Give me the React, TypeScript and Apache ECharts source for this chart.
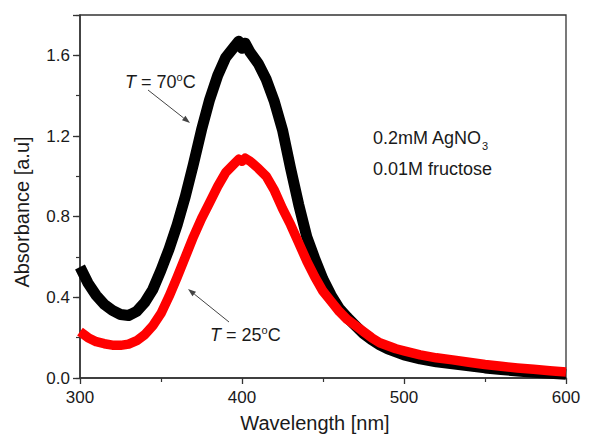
import React, { useEffect, useRef } from "react";
import * as echarts from "echarts";

const wavelengths = [
  300, 305, 310, 315, 320, 325, 330, 335, 340, 345, 350, 355, 360, 365, 370, 375, 380, 385, 390, 395,
  398, 400, 402, 405, 410, 415, 420, 425, 430, 435, 440, 445, 450, 455, 460, 465, 470, 475, 480, 485,
  490, 495, 500, 510, 520, 530, 540, 550, 560, 570, 580, 590, 600,
];

const abs70C = [
  0.55, 0.47, 0.41, 0.365, 0.335, 0.315, 0.31, 0.33, 0.375, 0.44, 0.535, 0.64, 0.76, 0.9, 1.06, 1.23, 1.38, 1.5, 1.59, 1.64,
  1.67, 1.635, 1.66, 1.615, 1.56, 1.48, 1.37, 1.23, 1.04, 0.86, 0.7, 0.59, 0.49, 0.41, 0.345, 0.3, 0.26, 0.22, 0.19, 0.165,
  0.145, 0.13, 0.115, 0.095, 0.08, 0.07, 0.06, 0.05, 0.042, 0.035, 0.028, 0.023, 0.018,
];

const abs25C = [
  0.23, 0.2, 0.18, 0.17, 0.163, 0.162, 0.168, 0.185, 0.215, 0.26, 0.32, 0.405, 0.5, 0.6, 0.7, 0.79, 0.87, 0.95, 1.02, 1.06,
  1.085, 1.075, 1.09, 1.075, 1.04, 1.0, 0.93, 0.84, 0.76, 0.67, 0.58, 0.5, 0.43, 0.38, 0.33, 0.29, 0.26, 0.23, 0.2, 0.175,
  0.16, 0.145, 0.135, 0.115, 0.1, 0.09, 0.078, 0.067, 0.058, 0.05, 0.043, 0.036, 0.03,
];

const xTicks = { min: 300, max: 600, interval: 100 };
const yTicks = { min: 0, max: 1.8, major: 0.4, minor: 0.2 };

const FONT = "'Liberation Sans', Arial, Helvetica, sans-serif";
const AXIS = "#333333";
const TEXT = "#1a1a1a";

function arrow(x1: number, y1: number, x2: number, y2: number) {
  const dx = x2 - x1;
  const dy = y2 - y1;
  const len = Math.sqrt(dx * dx + dy * dy);
  const ux = dx / len;
  const uy = dy / len;
  const hl = 8;
  const hw = 2.8;
  const bx = x2 - ux * hl;
  const by = y2 - uy * hl;
  return [
    {
      type: "line",
      shape: { x1, y1, x2: bx, y2: by },
      style: { stroke: "#444", lineWidth: 1 },
      silent: true,
    },
    {
      type: "polygon",
      shape: {
        points: [
          [x2, y2],
          [bx - uy * hw, by + ux * hw],
          [bx + uy * hw, by - ux * hw],
        ],
      },
      style: { fill: "#444" },
      silent: true,
    },
  ];
}

export default function App() {
  const ref = useRef<HTMLDivElement>(null);

  useEffect(() => {
    if (!ref.current) return;
    const chart = echarts.init(ref.current, undefined, { renderer: "svg" });
    const d70 = wavelengths.map((w, i) => [w, abs70C[i]]);
    const d25 = wavelengths.map((w, i) => [w, abs25C[i]]);

    const annoRich = {
      i: { fontStyle: "italic", fontSize: 18, fontFamily: FONT, fill: TEXT, lineHeight: 22 },
      n: { fontSize: 18, fontFamily: FONT, fill: TEXT, lineHeight: 22 },
      s: { fontSize: 11, fontFamily: FONT, fill: TEXT, verticalAlign: "top", lineHeight: 22 },
      b: { fontSize: 11, fontFamily: FONT, fill: TEXT, verticalAlign: "bottom", lineHeight: 26 },
    };

    chart.setOption({
      animation: false,
      backgroundColor: "#ffffff",
      grid: {
        left: 80,
        top: 15,
        right: 24,
        bottom: 57,
        show: true,
        borderColor: AXIS,
        borderWidth: 1.3,
        backgroundColor: "transparent",
      },
      xAxis: {
        type: "value",
        min: xTicks.min,
        max: xTicks.max,
        interval: xTicks.interval,
        axisLine: { show: true, lineStyle: { color: AXIS, width: 1.5 } },
        axisTick: { show: true, inside: false, length: 6, lineStyle: { color: AXIS, width: 1.3 } },
        minorTick: { show: true, splitNumber: 2, length: 4, lineStyle: { color: AXIS, width: 1.2 } },
        splitLine: { show: false },
        minorSplitLine: { show: false },
        axisLabel: { fontSize: 17, color: TEXT, fontFamily: FONT, margin: 11 },
      },
      yAxis: [
        {
          type: "value",
          min: yTicks.min,
          max: yTicks.max,
          interval: yTicks.minor,
          axisLine: { show: true, lineStyle: { color: AXIS, width: 1.5 } },
          axisTick: { show: true, inside: false, length: 4, lineStyle: { color: AXIS, width: 1.2 } },
          splitLine: { show: false },
          axisLabel: {
            fontSize: 17,
            color: TEXT,
            fontFamily: FONT,
            margin: 10,
            formatter: (v: number) => {
              const k = Math.round(v * 10);
              if (k % 4 !== 0 || k > 16) return "";
              return v.toFixed(1);
            },
          },
        },
        {
          type: "value",
          position: "left",
          min: yTicks.min,
          max: yTicks.max,
          interval: yTicks.major,
          axisLine: { show: false },
          axisTick: { show: true, inside: false, length: 7, lineStyle: { color: AXIS, width: 1.3 } },
          splitLine: { show: false },
          axisLabel: { show: false },
        },
      ],
      series: [
        {
          name: "T = 70°C",
          type: "line",
          data: d70,
          showSymbol: false,
          smooth: false,
          clip: true,
          lineStyle: { color: "#000000", width: 11, join: "round", cap: "butt" },
          z: 2,
        },
        {
          name: "T = 25°C",
          type: "line",
          data: d25,
          showSymbol: false,
          smooth: false,
          clip: true,
          lineStyle: { color: "#ff0000", width: 9.5, join: "round", cap: "butt" },
          z: 3,
        },
      ],
      graphic: [
        {
          type: "text",
          x: 315,
          y: 423,
          style: {
            text: "Wavelength [nm]",
            fontSize: 20,
            fontFamily: FONT,
            fill: TEXT,
            textAlign: "center",
            textVerticalAlign: "middle",
          },
        },
        {
          type: "text",
          x: 22,
          y: 212,
          rotation: Math.PI / 2,
          style: {
            text: "Absorbance [a.u]",
            fontSize: 20,
            fontFamily: FONT,
            fill: TEXT,
            textAlign: "center",
            textVerticalAlign: "middle",
          },
        },
        {
          type: "text",
          x: 125,
          y: 82,
          style: {
            text: "{i|T}{n| = 70}{s|o}{n|C}",
            rich: annoRich,
            fontSize: 18,
            fontFamily: FONT,
            fill: TEXT,
            textAlign: "left",
            textVerticalAlign: "middle",
          },
        },
        {
          type: "text",
          x: 210,
          y: 335,
          style: {
            text: "{i|T}{n| = 25}{s|o}{n|C}",
            rich: annoRich,
            fontSize: 18,
            fontFamily: FONT,
            fill: TEXT,
            textAlign: "left",
            textVerticalAlign: "middle",
          },
        },
        {
          type: "text",
          x: 373,
          y: 138,
          style: {
            text: "{n|0.2mM AgNO}{b|3}",
            rich: annoRich,
            fontSize: 18,
            fontFamily: FONT,
            fill: TEXT,
            textAlign: "left",
            textVerticalAlign: "middle",
          },
        },
        {
          type: "text",
          x: 373,
          y: 169,
          style: {
            text: "0.01M fructose",
            fontSize: 18,
            fontFamily: FONT,
            fill: TEXT,
            textAlign: "left",
            textVerticalAlign: "middle",
          },
        },
        ...arrow(148, 90, 190, 123),
        ...arrow(229, 322, 188, 289),
      ],
    });
    return () => chart.dispose();
  }, []);

  return (
    <div
      ref={ref}
      style={{ position: "fixed", left: 0, top: 0, width: 590, height: 435, background: "#fff" }}
    />
  );
}
